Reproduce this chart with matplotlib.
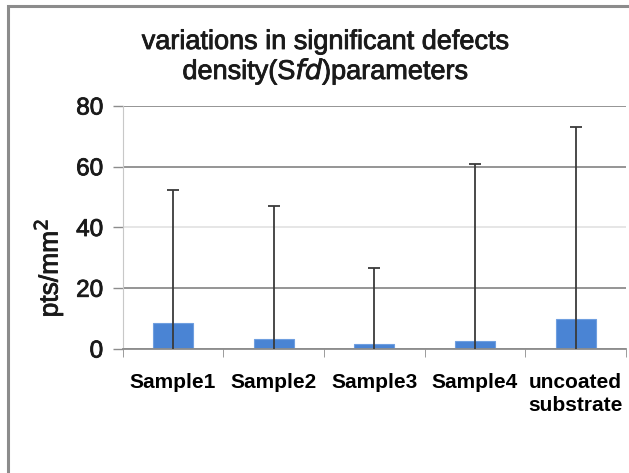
import numpy as np
import matplotlib
matplotlib.use('Agg')
import matplotlib.pyplot as plt
import matplotlib.patheffects as pe
from matplotlib.patches import Rectangle

# Data
categories = ['Sample1', 'Sample2', 'Sample3', 'Sample4', 'uncoated\nsubstrate']
sfd_values = [8.5, 3.4, 1.5, 2.6, 10.0]
error_tops = [52.2, 47.1, 26.6, 60.9, 73.0]
y_ticks = [0, 20, 40, 60, 80]

plt.rcParams['font.family'] = ['Liberation Sans', 'DejaVu Sans']

W, H = 629, 473
fig = plt.figure(figsize=(W / 100, H / 100), dpi=100, facecolor='w')

# slightly heavier strokes, like the scanned original
heavy = [pe.withStroke(linewidth=0.6, foreground='#1a1a1a')]

# outer chart frame (cropped at right / bottom in the reference)
fig.patches.append(Rectangle((8 / W, -0.1), 1.2, 1 - 6 / H + 0.1,
                             transform=fig.transFigure, fill=False,
                             ec='#8c8c8c', lw=2.2))

ax = fig.add_axes([122.7 / W, 1 - 349 / H, (626 - 122.7) / W, (349 - 106) / H])

x = np.arange(len(categories))
vals = np.array(sfd_values)
upper = np.array(error_tops) - vals
ax.bar(x, vals, width=0.4, color='#4a84d4', edgecolor='#6f9fe0', lw=0.8, zorder=2)
_, caps, _ = ax.errorbar(x, vals, yerr=[vals, upper], fmt='none', ecolor='#3a3a3a',
                         elinewidth=1.3, capsize=4, capthick=1.3, zorder=3)
caps[0].set_visible(False)  # no cap at the bottom end

ax.set_xlim(-0.5, len(categories) - 0.5)
ax.set_ylim(0, 80)
ax.set_yticks(y_ticks)
ax.set_yticklabels([str(v) for v in y_ticks], fontsize=17.5, color='#1a1a1a')
for t in ax.get_yticklabels():
    t.set_path_effects(heavy)

ax.set_xticks(x)
ax.set_xticklabels(categories, fontsize=15, fontweight='bold', linespacing=1.3)
ax.tick_params(axis='x', length=0, pad=17)
ax.set_xticks(np.arange(len(categories) + 1) - 0.5, minor=True)
ax.tick_params(axis='x', which='minor', length=6, color='#8c8c8c', direction='out')
ax.tick_params(axis='y', length=7, color='#8c8c8c', width=1, pad=7)

ax.set_axisbelow(True)
ax.yaxis.grid(True, color='#8c8c8c', lw=1.3)
for val, gl in zip(y_ticks, ax.get_ygridlines()):
    if val == 40:
        gl.set_color('#e4e4e4')

for s in ('top', 'right'):
    ax.spines[s].set_visible(False)
ax.spines['left'].set_color('#c8c8c8')
ax.spines['bottom'].set_color('#8c8c8c')
ax.spines['bottom'].set_linewidth(1.3)

fig.text(48 / W, 1 - 268 / H, 'pts/mm$^2$', rotation=90, ha='center',
         va='center', fontsize=19, color='#1a1a1a', path_effects=heavy)

fig.text(326 / W, 1 - 42 / H, 'variations in significant defects',
         ha='center', va='center', fontsize=19.5, color='#1a1a1a', path_effects=heavy)
fig.text(326 / W, 1 - 72 / H, 'density(S$\\it{fd}$)parameters',
         ha='center', va='center', fontsize=19.5, color='#1a1a1a', path_effects=heavy)

fig.savefig('out.png', dpi=100)
